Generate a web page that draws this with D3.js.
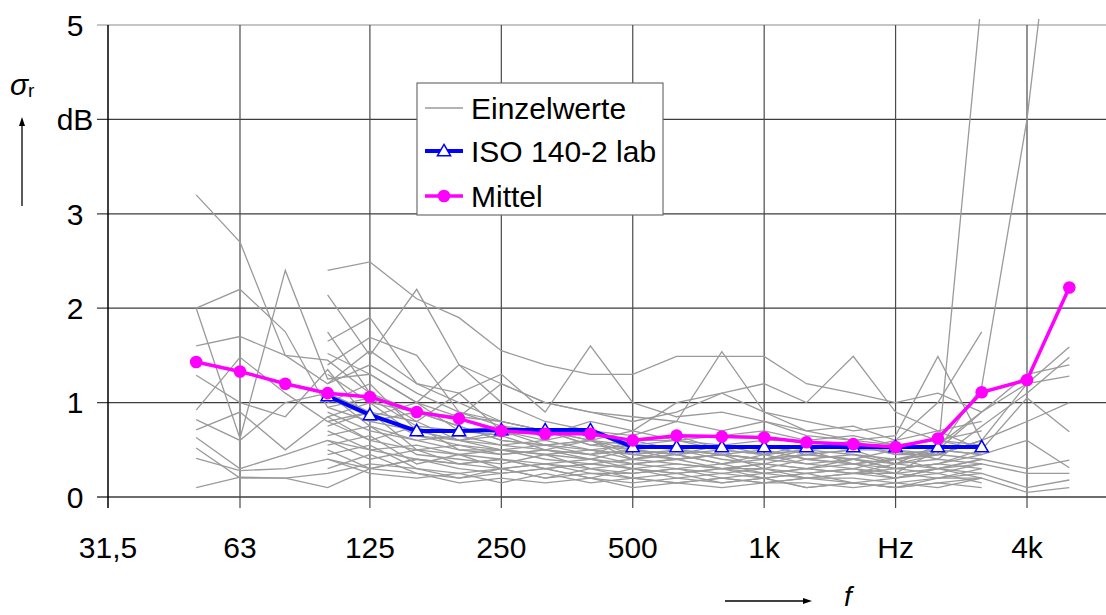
<!DOCTYPE html>
<html>
<head>
<meta charset="utf-8">
<script src="https://cdn.jsdelivr.net/npm/d3@7"></script>
<style>
  body { margin: 0; background: white; }
  text { font-family: "Liberation Sans", Arial, sans-serif; }
</style>
</head>
<body>
<div id="container"></div>
<script>
// third-octave bands used by the curves
let bands = [50, 63, 80, 100, 125, 160, 200, 250, 315, 400, 500, 630, 800, 1000, 1250, 1600, 2000, 2500, 3150, 4000, 5000];
let labBands = bands.slice(3, 19); // 100 .. 3150

// octave tick positions and their labels
let tickFreqs = [31.5, 63, 125, 250, 500, 1000, 2000, 4000];
let tickLabels = ["31,5", "63", "125", "250", "500", "1k", "Hz", "4k"];
let yTicks = [0, 1, 2, 3, 4, 5];
let yTickLabels = ["0", "1", "2", "3", "dB", "5"];

// Mittel (mean of all labs)
let mittel = [1.43, 1.33, 1.20, 1.10, 1.06, 0.90, 0.83, 0.70, 0.67, 0.67, 0.60, 0.65, 0.64, 0.63, 0.58, 0.56, 0.53, 0.62, 1.11, 1.24, 2.22];

// ISO 140-2 lab, 100 .. 3150 Hz
let isoLab = [1.07, 0.87, 0.70, 0.70, 0.71, 0.71, 0.71, 0.53, 0.53, 0.53, 0.53, 0.53, 0.53, 0.53, 0.53, 0.53];

// Einzelwerte, labs measuring 50 .. 5000 Hz
let singleFull = [
  [3.2, 2.7, 1.5, 1.45, 1.1, 0.9, 0.75, 0.6, 0.55, 0.6, 0.45, 0.5, 0.45, 0.4, 0.5, 0.35, 0.4, 0.45, 0.6, 1.2, 1.59],
  [2.0, 0.62, 2.4, 1.25, 1.3, 1.0, 0.85, 0.8, 0.7, 0.55, 0.6, 0.65, 0.5, 0.55, 0.45, 0.5, 0.5, 0.4, 0.75, 1.1, 1.48],
  [2.0, 2.2, 1.75, 0.95, 1.05, 0.75, 0.7, 0.65, 0.5, 0.6, 0.5, 0.45, 0.55, 0.5, 0.4, 0.45, 0.35, 0.55, 0.9, 1.3, 1.40],
  [1.6, 1.7, 1.5, 1.2, 1.4, 1.1, 0.9, 0.75, 0.7, 0.6, 0.55, 0.6, 0.5, 0.45, 0.5, 0.55, 0.45, 0.5, 0.9, 1.2, 1.28],
  [1.29, 1.0, 0.85, 1.35, 0.8, 0.7, 0.6, 0.55, 0.5, 0.45, 0.5, 0.4, 0.45, 0.4, 0.45, 0.4, 0.35, 0.45, 0.6, 0.8, 1.0],
  [0.92, 1.48, 1.1, 0.8, 0.9, 0.65, 0.55, 0.5, 0.45, 0.5, 0.4, 0.45, 0.35, 0.4, 0.35, 0.4, 0.3, 0.35, 0.5, 1.05, 0.69],
  [0.82, 0.6, 1.0, 1.1, 0.75, 0.6, 0.5, 0.45, 0.5, 0.4, 0.35, 0.4, 0.3, 0.35, 0.3, 0.35, 0.25, 0.3, 0.4, 0.3, 0.39],
  [0.71, 0.9, 0.5, 0.85, 0.6, 0.5, 0.45, 0.4, 0.35, 0.4, 0.3, 0.35, 0.3, 0.25, 0.3, 0.25, 0.3, 0.35, 0.45, 0.6, 0.31],
  [0.63, 0.3, 0.45, 0.6, 0.5, 0.4, 0.35, 0.3, 0.35, 0.3, 0.25, 0.3, 0.25, 0.3, 0.2, 0.25, 0.2, 0.3, 0.35, 0.25, 0.25],
  [0.52, 0.2, 0.2, 0.25, 0.35, 0.3, 0.25, 0.3, 0.2, 0.25, 0.2, 0.15, 0.2, 0.15, 0.2, 0.15, 0.1, 0.2, 0.25, 0.1, 0.18],
  [0.41, 0.28, 0.3, 0.4, 0.3, 0.25, 0.2, 0.25, 0.3, 0.2, 0.15, 0.2, 0.15, 0.2, 0.1, 0.15, 0.1, 0.15, 0.2, 0.05, 0.1],
  [0.1, 0.21, 0.2, 0.1, 0.3, 0.4, 0.35, 0.4, 0.3, 0.35, 0.3, 0.25, 0.3, 0.2, 0.25, 0.3, 0.25, 0.5, 1.17, 4.0, 7.8]
];

// Einzelwerte, labs measuring 100 .. 3150 Hz
let singleLab = [
  [2.4, 2.49, 2.1, 1.9, 1.55, 1.4, 1.3, 1.3, 1.49, 1.49, 1.49, 1.2, 1.1, 1.0, 1.1, 0.9],
  [2.14, 1.5, 2.2, 1.4, 1.2, 1.0, 0.9, 0.8, 0.9, 1.1, 0.9, 0.8, 0.7, 0.75, 0.6, 0.55],
  [1.65, 1.9, 1.2, 1.1, 1.3, 0.9, 1.6, 1.0, 0.85, 0.9, 0.8, 0.7, 0.75, 0.6, 0.7, 0.5],
  [1.52, 1.3, 1.0, 1.4, 1.0, 0.8, 0.7, 0.65, 0.8, 1.54, 0.9, 0.7, 0.6, 0.55, 0.5, 0.45],
  [1.4, 1.69, 1.5, 0.9, 0.8, 0.7, 0.6, 0.7, 1.0, 1.1, 1.2, 1.0, 1.49, 0.9, 0.7, 0.8],
  [1.3, 1.0, 0.9, 0.85, 1.2, 1.0, 0.9, 0.85, 0.8, 0.7, 0.8, 0.65, 0.6, 0.65, 1.49, 0.6],
  [1.2, 1.55, 1.2, 1.0, 0.8, 0.7, 0.65, 0.6, 0.6, 0.55, 0.6, 0.6, 0.5, 0.55, 0.6, 0.5],
  [1.1, 0.9, 0.8, 1.1, 0.7, 0.6, 0.7, 0.5, 0.55, 0.5, 0.45, 0.5, 0.45, 0.4, 0.45, 0.4],
  [1.0, 1.2, 0.7, 0.6, 0.65, 0.7, 0.55, 0.5, 0.45, 0.5, 0.55, 0.5, 0.6, 0.45, 0.45, 5.3],
  [0.95, 0.8, 0.9, 0.75, 0.6, 0.55, 0.5, 0.55, 0.5, 0.45, 0.4, 0.45, 0.4, 0.5, 0.45, 0.6],
  [0.9, 0.7, 0.6, 0.65, 0.55, 0.6, 0.5, 0.45, 0.4, 0.45, 0.5, 0.4, 0.35, 0.4, 0.5, 0.45],
  [0.85, 1.0, 0.65, 0.6, 0.7, 0.55, 0.6, 0.4, 0.5, 0.4, 0.35, 0.45, 0.5, 0.35, 0.4, 0.35],
  [0.8, 0.6, 0.75, 0.5, 0.5, 0.45, 0.4, 0.5, 0.45, 0.35, 0.45, 0.35, 0.3, 0.4, 0.3, 0.4],
  [0.75, 0.9, 0.5, 0.55, 0.45, 0.5, 0.45, 0.35, 0.4, 0.45, 0.3, 0.4, 0.35, 0.3, 0.35, 0.3],
  [0.7, 0.5, 0.55, 0.45, 0.5, 0.4, 0.35, 0.4, 0.35, 0.3, 0.35, 0.3, 0.4, 0.3, 0.25, 0.35],
  [0.65, 0.75, 0.45, 0.4, 0.35, 0.45, 0.3, 0.35, 0.3, 0.35, 0.25, 0.3, 0.25, 0.35, 0.3, 0.25],
  [0.6, 0.4, 0.5, 0.35, 0.4, 0.3, 0.35, 0.3, 0.25, 0.3, 0.3, 0.25, 0.3, 0.2, 0.3, 0.2],
  [0.55, 0.65, 0.35, 0.45, 0.3, 0.35, 0.25, 0.25, 0.3, 0.2, 0.25, 0.2, 0.25, 0.25, 0.2, 0.3],
  [0.5, 0.3, 0.4, 0.3, 0.25, 0.3, 0.2, 0.3, 0.2, 0.25, 0.2, 0.25, 0.15, 0.2, 0.25, 0.15],
  [0.45, 0.55, 0.3, 0.2, 0.3, 0.2, 0.3, 0.2, 0.15, 0.2, 0.15, 0.2, 0.2, 0.15, 0.2, 0.2],
  [0.4, 0.25, 0.2, 0.25, 0.15, 0.25, 0.15, 0.2, 0.25, 0.15, 0.2, 0.1, 0.15, 0.1, 0.15, 0.1],
  [0.3, 0.45, 0.25, 0.15, 0.2, 0.15, 0.2, 0.1, 0.15, 0.1, 0.15, 0.15, 0.1, 0.15, 0.1, 0.2],
  [1.75, 1.1, 0.8, 0.6, 0.5, 0.55, 0.45, 0.6, 0.5, 0.55, 0.45, 0.55, 0.5, 0.6, 1.0, 1.75],
  [1.05, 0.85, 1.0, 0.7, 0.75, 0.65, 0.8, 0.7, 0.6, 0.65, 0.7, 0.6, 0.65, 0.55, 0.6, 0.7]
];

let w = 1106;
let h = 615;
let plotLeft = 108;
let plotRight = 1106;
let plotTop = 25;
let plotBottom = 497;

let viz = d3.select("#container")
  .append("svg")
    .attr("width", w)
    .attr("height", h)
;

let xScale = d3.scaleLog().domain([63, 4000]).range([240, 1027]);
let yScale = d3.scaleLinear().domain([0, 5]).range([plotBottom, plotTop]);

let gridColor = "#3c3c3c";

// horizontal grid lines (with small ticks on the left)
viz.append("g").selectAll("line")
  .data(yTicks)
  .enter()
  .append("line")
    .attr("x1", 97)
    .attr("x2", plotRight)
    .attr("y1", d => yScale(d))
    .attr("y2", d => yScale(d))
    .attr("stroke", d => d == 5 ? "#8c8c8c" : gridColor)
    .attr("stroke-width", d => d == 0 ? 1.5 : 1.2)
;

// vertical grid lines, reaching below the axis as ticks
viz.append("g").selectAll("line")
  .data(tickFreqs)
  .enter()
  .append("line")
    .attr("x1", (d, i) => i == 0 ? plotLeft : xScale(d))
    .attr("x2", (d, i) => i == 0 ? plotLeft : xScale(d))
    .attr("y1", plotTop)
    .attr("y2", 508)
    .attr("stroke", (d, i) => i == 0 ? "#000" : "#4a4a4a")
    .attr("stroke-width", (d, i) => i == 0 ? 1.5 : 1.2)
;

// tick labels
viz.append("g").selectAll("text")
  .data(tickLabels)
  .enter()
  .append("text")
    .text(d => d)
    .attr("x", (d, i) => i == 0 ? plotLeft : xScale(tickFreqs[i]))
    .attr("y", 558)
    .attr("text-anchor", "middle")
    .attr("font-size", "30px")
    .attr("fill", "#000")
;

viz.append("g").selectAll("text")
  .data(yTickLabels)
  .enter()
  .append("text")
    .text(d => d)
    .attr("x", 75)
    .attr("y", (d, i) => yScale(yTicks[i]))
    .attr("dy", "0.36em")
    .attr("text-anchor", "middle")
    .attr("font-size", "30px")
    .attr("fill", "#000")
;

// clip so that the runaway values stop at the top of the plot
viz.append("clipPath")
    .attr("id", "plotClip")
  .append("rect")
    .attr("x", plotLeft)
    .attr("y", 19)
    .attr("width", plotRight - plotLeft)
    .attr("height", plotBottom - 19 + 2)
;

let plot = viz.append("g").attr("clip-path", "url(#plotClip)");

let fullLine = d3.line()
  .x((d, i) => xScale(bands[i]))
  .y(d => yScale(d))
;
let labLine = d3.line()
  .x((d, i) => xScale(labBands[i]))
  .y(d => yScale(d))
;

// Einzelwerte
plot.append("g").selectAll("path")
  .data(singleFull)
  .enter()
  .append("path")
    .attr("d", fullLine)
    .attr("fill", "none")
    .attr("stroke", "#9a9a9a")
    .attr("stroke-width", 1.3)
;
plot.append("g").selectAll("path")
  .data(singleLab)
  .enter()
  .append("path")
    .attr("d", labLine)
    .attr("fill", "none")
    .attr("stroke", "#9a9a9a")
    .attr("stroke-width", 1.3)
;

// ISO 140-2 lab
let tri = d3.symbol().type(d3.symbolTriangle).size(75);

plot.append("path")
  .attr("d", labLine(isoLab))
  .attr("fill", "none")
  .attr("stroke", "#0000ff")
  .attr("stroke-width", 4)
;
plot.append("g").selectAll("path")
  .data(isoLab)
  .enter()
  .append("path")
    .attr("d", tri)
    .attr("transform", (d, i) => "translate(" + xScale(labBands[i]) + "," + (yScale(d) + 1) + ")")
    .attr("fill", "white")
    .attr("stroke", "#0000ff")
    .attr("stroke-width", 1.5)
;

// Mittel
plot.append("path")
  .attr("d", fullLine(mittel))
  .attr("fill", "none")
  .attr("stroke", "#ff00ff")
  .attr("stroke-width", 3.5)
;
plot.append("g").selectAll("circle")
  .data(mittel)
  .enter()
  .append("circle")
    .attr("cx", (d, i) => xScale(bands[i]))
    .attr("cy", d => yScale(d))
    .attr("r", 6.3)
    .attr("fill", "#ff00ff")
;

// legend
let legend = viz.append("g");
legend.append("rect")
  .attr("x", 417)
  .attr("y", 83)
  .attr("width", 246)
  .attr("height", 132)
  .attr("fill", "white")
  .attr("stroke", "#6e6e6e")
  .attr("stroke-width", 1.2)
;

let legendNames = ["Einzelwerte", "ISO 140-2 lab", "Mittel"];
let legendRows = [108, 151, 196];

legend.selectAll("text")
  .data(legendNames)
  .enter()
  .append("text")
    .text(d => d)
    .attr("x", 471)
    .attr("y", (d, i) => legendRows[i] + 10.5)
    .attr("font-size", "30px")
    .attr("fill", "#000")
;

legend.append("line")
  .attr("x1", 425).attr("x2", 463)
  .attr("y1", legendRows[0]).attr("y2", legendRows[0])
  .attr("stroke", "#9a9a9a").attr("stroke-width", 1.3)
;
legend.append("line")
  .attr("x1", 425).attr("x2", 463)
  .attr("y1", legendRows[1]).attr("y2", legendRows[1])
  .attr("stroke", "#0000ff").attr("stroke-width", 4)
;
legend.append("path")
  .attr("d", tri)
  .attr("transform", "translate(444," + (legendRows[1] + 1) + ")")
  .attr("fill", "white")
  .attr("stroke", "#0000ff")
  .attr("stroke-width", 1.5)
;
legend.append("line")
  .attr("x1", 425).attr("x2", 463)
  .attr("y1", legendRows[2]).attr("y2", legendRows[2])
  .attr("stroke", "#ff00ff").attr("stroke-width", 3.5)
;
legend.append("circle")
  .attr("cx", 444)
  .attr("cy", legendRows[2])
  .attr("r", 6.3)
  .attr("fill", "#ff00ff")
;

// axis titles with arrows
let sigma = viz.append("text")
  .attr("x", 10)
  .attr("y", 95)
  .attr("font-size", "30px")
  .attr("fill", "#000")
;
sigma.append("tspan").text("σ").attr("font-style", "italic");
sigma.append("tspan").text("r").attr("font-size", "19px").attr("dy", 2);

viz.append("line")
  .attr("x1", 22).attr("x2", 22)
  .attr("y1", 206).attr("y2", 124)
  .attr("stroke", "#000").attr("stroke-width", 1.3)
;
viz.append("path")
  .attr("d", "M22,117 L19,126 L25,126 Z")
  .attr("fill", "#000")
;

viz.append("line")
  .attr("x1", 725).attr("x2", 805)
  .attr("y1", 601).attr("y2", 601)
  .attr("stroke", "#000").attr("stroke-width", 1.3)
;
viz.append("path")
  .attr("d", "M812,601 L803,598 L803,604 Z")
  .attr("fill", "#000")
;
viz.append("text")
  .text("f")
  .attr("x", 844)
  .attr("y", 606)
  .attr("font-size", "28px")
  .attr("font-style", "italic")
  .attr("fill", "#000")
;
</script>
</body>
</html>
